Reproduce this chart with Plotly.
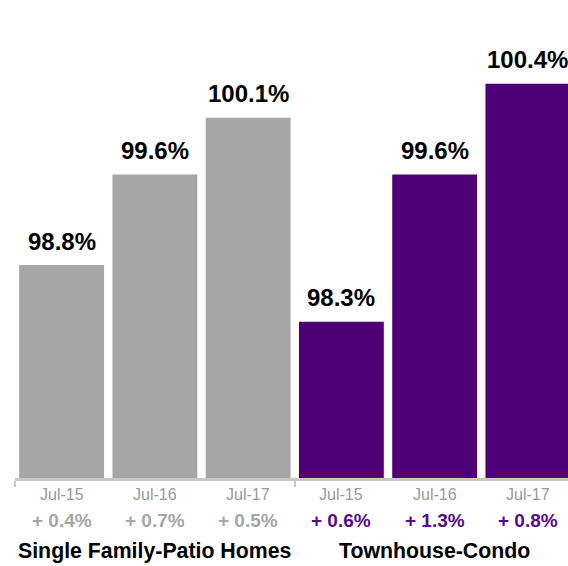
import plotly.graph_objects as go

# Data
periods = ["Jul-15", "Jul-16", "Jul-17"]
groups = ["Single Family-Patio Homes", "Townhouse-Condo"]
sfp_values = [98.8, 99.6, 100.1]
tc_values = [98.3, 99.6, 100.4]
sfp_changes = ["+ 0.4%", "+ 0.7%", "+ 0.5%"]
tc_changes = ["+ 0.6%", "+ 1.3%", "+ 0.8%"]

GREY = "#a6a6a6"
PURPLE = "#4f0077"
FONT = "Liberation Sans, Arial, Helvetica, sans-serif"

series = [
    (sfp_values, sfp_changes, GREY, GREY),
    (tc_values, tc_changes, PURPLE, "#570a8c"),
]

fig = go.Figure()
annotations = []
for g, (vals, changes, bar_color, change_color) in enumerate(series):
    xs = [g * len(periods) + i for i in range(len(periods))]
    fig.add_trace(go.Bar(x=xs, y=vals, marker=dict(color=bar_color, line=dict(width=0)),
                         hoverinfo="skip", showlegend=False))
    for x, v, p, c in zip(xs, vals, periods, changes):
        annotations.append(dict(x=x, y=v, xref="x", yref="y", text=f"<b>{v:.1f}%</b>",
                                showarrow=False, yanchor="middle", yshift=24,
                                font=dict(family=FONT, size=24, color="#000000")))
        annotations.append(dict(x=x, y=0, xref="x", yref="paper", text=p,
                                showarrow=False, yanchor="middle", yshift=-16,
                                font=dict(family=FONT, size=16, color="#999999")))
        annotations.append(dict(x=x, y=0, xref="x", yref="paper", text=f"<b>{c}</b>",
                                showarrow=False, yanchor="middle", yshift=-42,
                                font=dict(family=FONT, size=19, color=change_color)))
    annotations.append(dict(x=xs[1], y=0, xref="x", yref="paper", text=f"<b>{groups[g]}</b>",
                            showarrow=False, yanchor="middle", yshift=-73,
                            font=dict(family=FONT, size=21.3, color="#000000")))

fig.update_layout(
    width=568, height=566,
    margin=dict(l=15, r=0, t=0, b=88),
    paper_bgcolor="white", plot_bgcolor="white",
    barmode="overlay", bargap=0.09,
    annotations=annotations,
    xaxis=dict(range=[-0.5, 5.43], showgrid=False, zeroline=False,
               showline=True, linecolor="#c8c8c8", linewidth=3,
               tickmode="array", tickvals=[-0.5, 2.5], showticklabels=False,
               ticks="outside", ticklen=6, tickwidth=2, tickcolor="#c8c8c8"),
    yaxis=dict(range=[96.92, 101.14], visible=False, showgrid=False, zeroline=False),
)

fig.write_html("out.html")
